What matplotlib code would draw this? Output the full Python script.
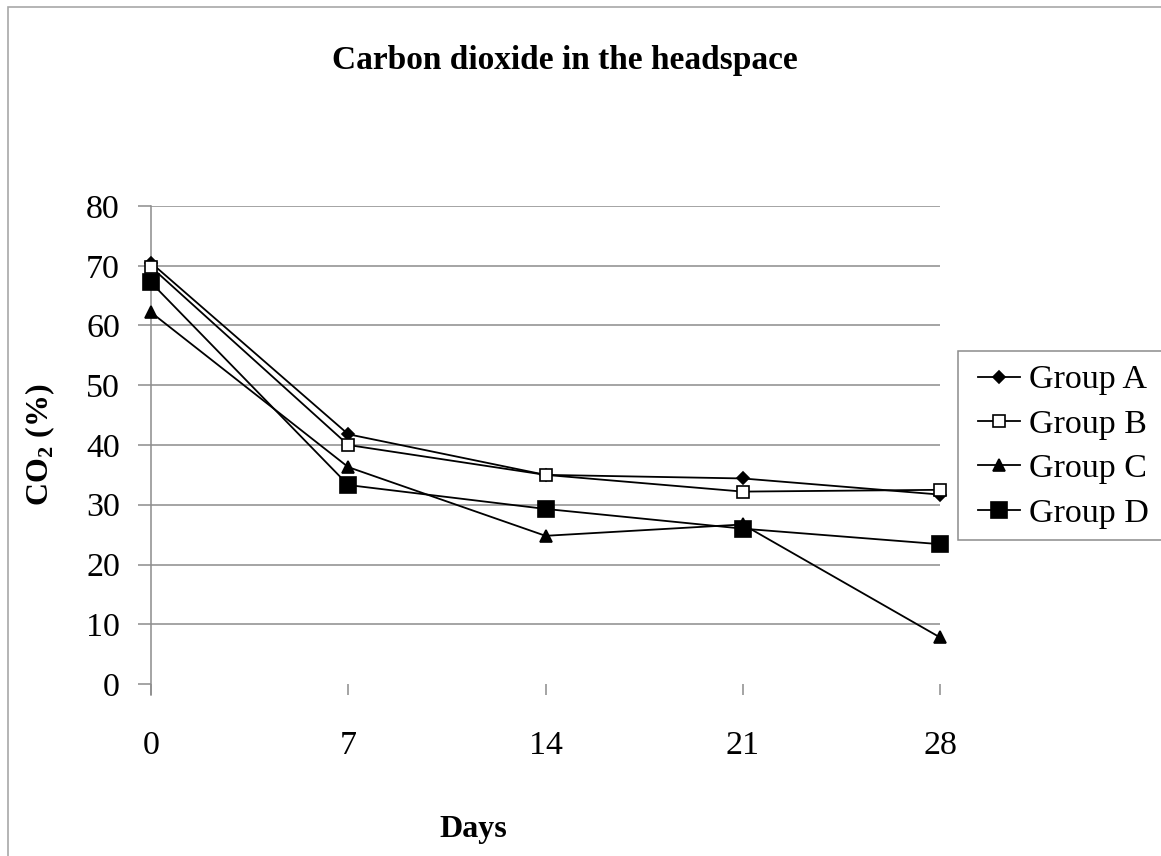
import matplotlib
matplotlib.use("Agg")
import matplotlib.pyplot as plt
from matplotlib.patches import Rectangle

plt.rcParams['font.family'] = ['Liberation Serif', 'DejaVu Serif']
plt.rcParams['mathtext.fontset'] = 'custom'
plt.rcParams['mathtext.rm'] = 'Liberation Serif'
plt.rcParams['mathtext.bf'] = 'Liberation Serif:bold'

# data
days = [0, 7, 14, 21, 28]
group_a = [70.5, 41.8, 35.0, 34.4, 31.7]
group_b = [69.8, 40.0, 35.0, 32.2, 32.5]
group_c = [62.2, 36.3, 24.8, 26.7, 7.8]
group_d = [67.2, 33.3, 29.3, 26.0, 23.4]
y_ticks = [0, 10, 20, 30, 40, 50, 60, 70, 80]

W, H = 1161, 856
fig = plt.figure(figsize=(W / 100, H / 100), dpi=100)

# outer chart border (right/bottom fall off the picture)
fig.patches.append(Rectangle((8 / W, -0.1), 1.2, 1 - 7 / H + 0.1,
                             transform=fig.transFigure, fill=False,
                             edgecolor='#a8a8a8', linewidth=1.2))

ax = fig.add_axes([151 / W, 1 - 684 / H, 789 / W, 478 / H])

gray = '#8c8c8c'
series = [
    ("Group A", group_a, dict(marker='D', markersize=6, markerfacecolor='black')),
    ("Group B", group_b, dict(marker='s', markersize=8, markerfacecolor='white')),
    ("Group C", group_c, dict(marker='^', markersize=9, markerfacecolor='black')),
    ("Group D", group_d, dict(marker='s', markersize=11, markerfacecolor='black')),
]
for name, vals, style in series:
    ax.plot(days, vals, color='black', linewidth=1.3, markeredgecolor='black',
            markeredgewidth=1.2, label=name, clip_on=False, zorder=3, **style)

ax.set_xlim(0, 28)
ax.set_ylim(0, 80)
ax.set_xticks(days)
ax.set_yticks(y_ticks)

ax.yaxis.grid(True, color=gray, linewidth=1.1)
ax.get_ygridlines()[0].set_visible(False)
ax.set_axisbelow(True)

for side in ['top', 'right', 'bottom']:
    ax.spines[side].set_visible(False)
ax.spines['left'].set_color(gray)
ax.spines['left'].set_linewidth(1.1)
ax.spines['left'].set_bounds(-1.8, 80)

ax.tick_params(axis='y', direction='out', length=9.4, width=1.1, color=gray,
               pad=13, labelsize=24.5)
ax.tick_params(axis='x', direction='out', length=8.2, width=1.1, color=gray,
               pad=25, labelsize=24.5)

fig.text(565 / W, 1 - 60 / H, "Carbon dioxide in the headspace",
         ha='center', va='center', fontsize=24, fontweight='bold')
fig.text(473 / W, 1 - 830 / H, "Days", ha='center', va='center',
         fontsize=23, fontweight='bold')
fig.text(40 / W, 1 - 445 / H, r"CO$_{\mathbf{2}}$ (%)", ha='center',
         va='center', rotation=90, fontsize=23, fontweight='bold')

# legend box runs off the right edge in the original, so draw it by hand
ax.add_patch(Rectangle((958 / W, 1 - 540 / H), 0.3, 189 / H,
                       transform=fig.transFigure, facecolor='white',
                       edgecolor=gray, linewidth=1.1, zorder=4,
                       clip_on=False))
leg = ax.legend(loc='upper left', bbox_to_anchor=(964 / W, 1 - 351 / H),
                bbox_transform=fig.transFigure, fontsize=24.5,
                frameon=False, handlelength=1.25, handletextpad=0.25,
                labelspacing=0.4, borderpad=0.4, borderaxespad=0)
leg.set_zorder(5)

fig.savefig("out.png", dpi=100)
